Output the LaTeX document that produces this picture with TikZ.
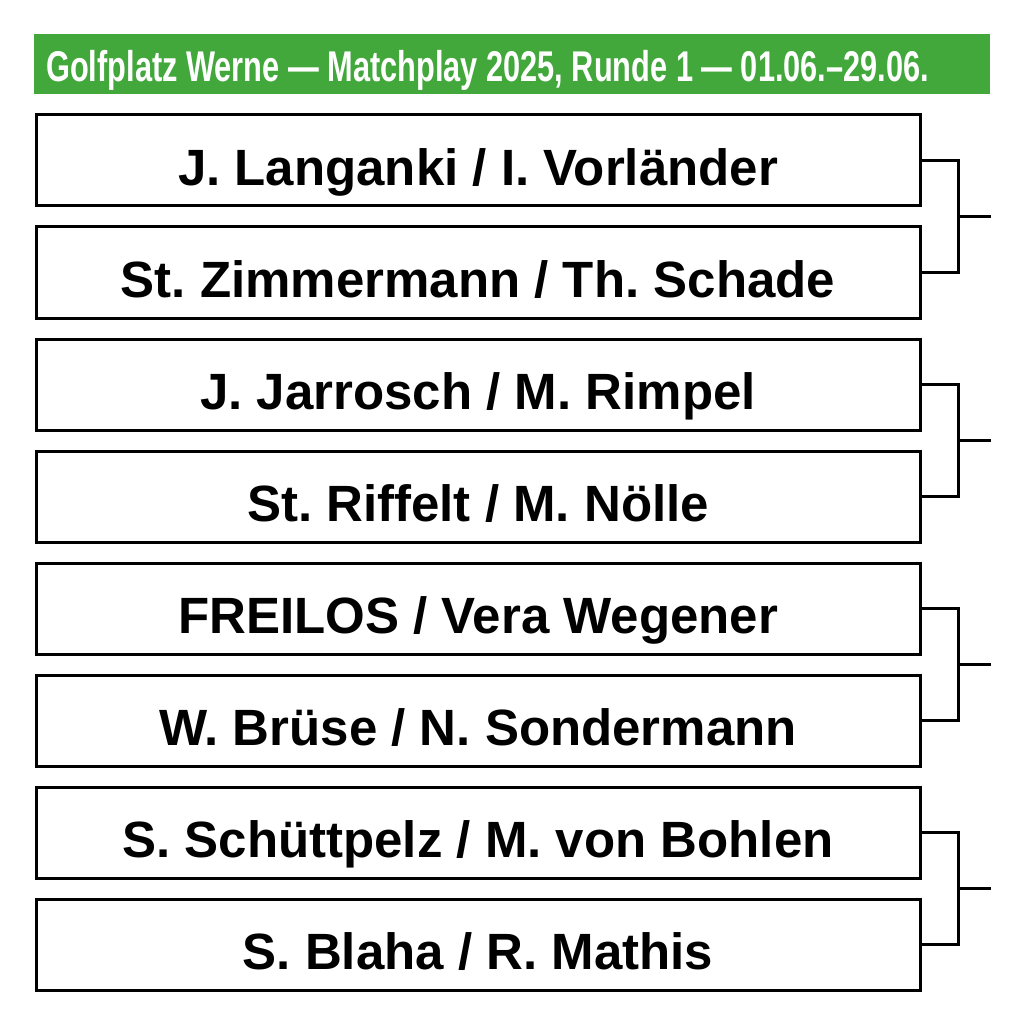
\documentclass[tikz,border=0pt]{standalone}
\usepackage{fontspec}
\usetikzlibrary{calc}
\setmainfont{Liberation Sans}
\newfontfamily\headfont[FakeStretch=0.715]{Liberation Sans}
\definecolor{golfgreen}{HTML}{42A83C}
\frenchspacing
\begin{document}
\begin{tikzpicture}[x=1pt,y=-1pt,
  namebox/.style={draw=black,line width=3pt,minimum width=884pt,minimum height=91pt,inner sep=0pt},
  nametext/.style={anchor=base,font=\fontsize{51}{53}\selectfont\bfseries},
  bracket/.style={draw=black,line width=3pt}]
\useasboundingbox (0,0) rectangle (1024,1024);
\node[fill=golfgreen,minimum width=956pt,minimum height=60pt,inner sep=0pt,anchor=north west] (head) at (34,34) {};
\node[anchor=base west,text=white,inner sep=0pt,font=\headfont\fontsize{43}{45}\selectfont\bfseries] (htext) at (46,82) {Golfplatz Werne — Matchplay 2025, Runde 1 — 01.06.–29.06.};
\foreach \i/\t in {1/{J. Langanki / I. Vorländer},2/{St. Zimmermann / Th. Schade},3/{J. Jarrosch / M. Rimpel},4/{St. Riffelt / M. Nölle},5/{FREILOS / Vera Wegener},6/{W. Brüse / N. Sondermann},7/{S. Schüttpelz / M. von Bohlen},8/{S. Blaha / R. Mathis}}{
  \pgfmathsetmacro{\cy}{160.5+112*(\i-1)}
  \node[namebox] (b\i) at (478,\cy) {};
  \node[nametext] (t\i) at (478,\cy+25) {\t};
}
\foreach \a/\b/\k in {1/2/1,3/4/2,5/6/3,7/8/4}{
  \draw[bracket] (b\a.east) -- ++(37,0) |- (b\b.east);
  \coordinate (m\k) at ($(b\a.east)!0.5!(b\b.east)+(37,0)$);
  \coordinate (o\k) at ($(m\k)+(32,0)$);
  \draw[bracket] (m\k) -- (o\k);
}
\end{tikzpicture}
\end{document}
